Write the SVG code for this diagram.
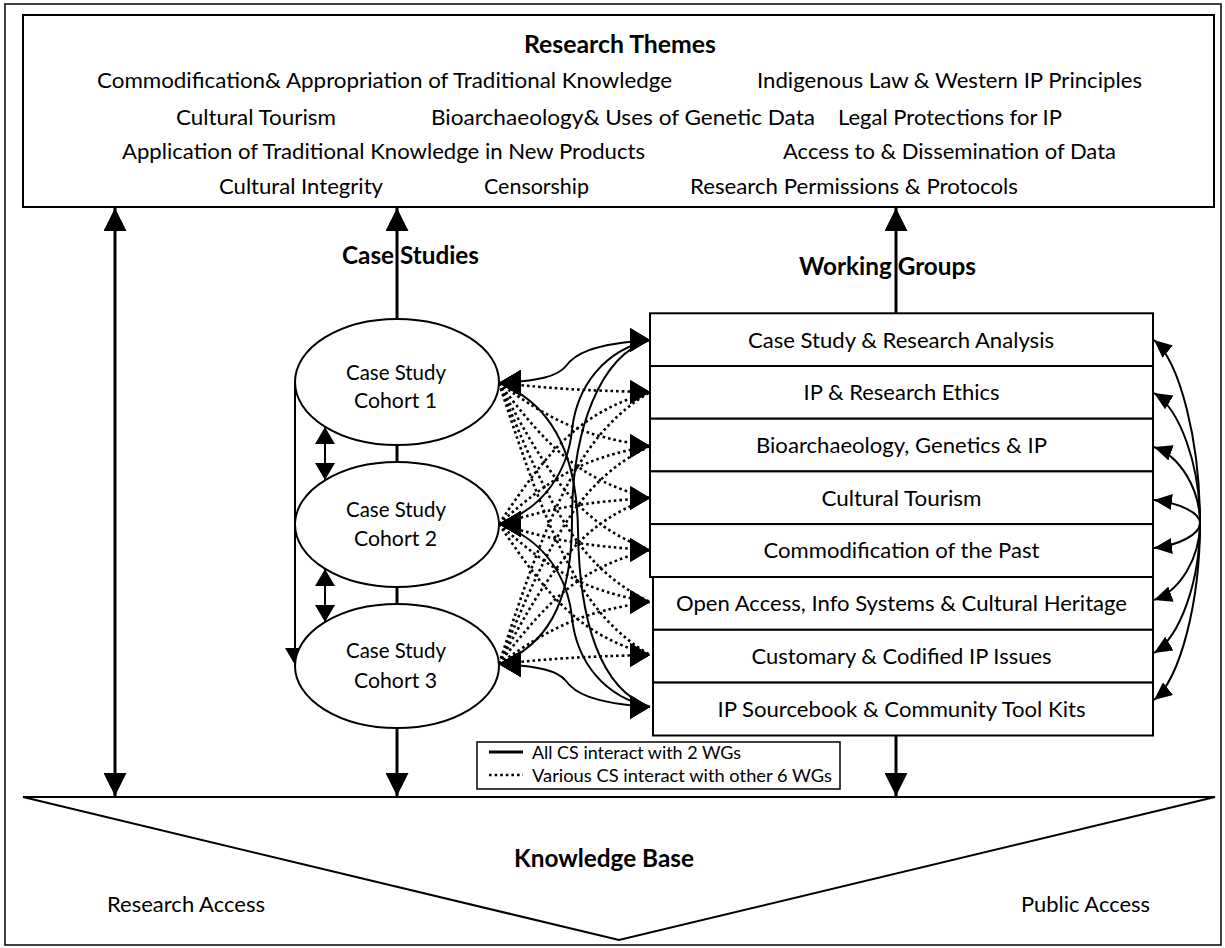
<svg xmlns="http://www.w3.org/2000/svg" width="1225" height="948" viewBox="0 0 1225 948">
<style>
.t{font-family:Lato,'Open Sans','Liberation Sans',sans-serif;font-size:22px;fill:#000}
.b{font-weight:bold;font-size:24.5px}
.e{font-size:20.5px}
.lg{font-size:18px}
.box{fill:#fff;stroke:#000;stroke-width:2}
.ln{fill:none;stroke:#000;stroke-width:3}
.cv{fill:none;stroke:#000;stroke-width:2}
.dt{fill:none;stroke:#000;stroke-width:2.6;stroke-dasharray:2.6 3}
</style>
<defs>
<marker id="mBig" viewBox="0 0 23 23" refX="23" refY="11.5" markerWidth="23" markerHeight="23" markerUnits="userSpaceOnUse" orient="auto-start-reverse"><path d="M0,0 L23,11.5 L0,23 z" fill="#000"/></marker>
<marker id="mSm" viewBox="0 0 17 20" refX="17" refY="10" markerWidth="17" markerHeight="20" markerUnits="userSpaceOnUse" orient="auto-start-reverse"><path d="M0,0 L17,10 L0,20 z" fill="#000"/></marker>
<marker id="mCoh" viewBox="0 0 22 26" refX="22" refY="13" markerWidth="22" markerHeight="26" markerUnits="userSpaceOnUse" orient="180"><path d="M0,0 L22,13 L0,26 z" fill="#000"/></marker>
<marker id="mRow" viewBox="0 0 20 24" refX="20" refY="12" markerWidth="20" markerHeight="24" markerUnits="userSpaceOnUse" orient="0"><path d="M0,0 L20,12 L0,24 z" fill="#000"/></marker>
<marker id="mArc" viewBox="0 0 18 16" refX="18" refY="8" markerWidth="18" markerHeight="16" markerUnits="userSpaceOnUse" orient="auto"><path d="M0,0 L18,8 L0,16 z" fill="#000"/></marker>
</defs>
<rect x="0" y="0" width="1225" height="948" fill="#fff"/>
<rect x="5" y="4" width="1216" height="941" fill="none" stroke="#000" stroke-width="1.5"/>

<g id="research-themes">
<rect class="box" x="23" y="15" width="1191" height="192"/>
<text class="t b" x="524" y="53" textLength="192" lengthAdjust="spacingAndGlyphs">Research Themes</text>
<text class="t" x="97" y="88" textLength="575" lengthAdjust="spacingAndGlyphs">Commodification&amp; Appropriation of Traditional Knowledge</text>
<text class="t" x="757" y="88" textLength="385" lengthAdjust="spacingAndGlyphs">Indigenous Law &amp; Western IP Principles</text>
<text class="t" x="176" y="125" textLength="160" lengthAdjust="spacingAndGlyphs">Cultural Tourism</text>
<text class="t" x="431" y="125" textLength="384" lengthAdjust="spacingAndGlyphs">Bioarchaeology&amp; Uses of Genetic Data</text>
<text class="t" x="838" y="125" textLength="224" lengthAdjust="spacingAndGlyphs">Legal Protections for IP</text>
<text class="t" x="122" y="159" textLength="523" lengthAdjust="spacingAndGlyphs">Application of Traditional Knowledge in New Products</text>
<text class="t" x="783" y="159" textLength="333" lengthAdjust="spacingAndGlyphs">Access to &amp; Dissemination of Data</text>
<text class="t" x="219" y="194" textLength="164" lengthAdjust="spacingAndGlyphs">Cultural Integrity</text>
<text class="t" x="484" y="194" textLength="105" lengthAdjust="spacingAndGlyphs">Censorship</text>
<text class="t" x="690" y="194" textLength="328" lengthAdjust="spacingAndGlyphs">Research Permissions &amp; Protocols</text>
</g>

<g id="knowledge-base">
<polygon points="23,797 1215,797 619,940" fill="#fff" stroke="#000" stroke-width="2"/>
<text class="t b" x="514" y="867" textLength="180" lengthAdjust="spacingAndGlyphs">Knowledge Base</text>
<text class="t" x="107" y="912" textLength="158" lengthAdjust="spacingAndGlyphs">Research Access</text>
<text class="t" x="1021" y="912" textLength="129" lengthAdjust="spacingAndGlyphs">Public Access</text>
</g>

<g id="connectors">
<path class="ln" d="M115 208 L115 796" marker-start="url(#mBig)" marker-end="url(#mBig)"/>
<path class="ln" d="M397 319 L397 208" marker-end="url(#mBig)"/>
<path class="ln" d="M397 728 L397 796" marker-end="url(#mBig)"/>
<path class="ln" d="M896 313 L896 208" marker-end="url(#mBig)"/>
<path class="ln" d="M896 736 L896 796" marker-end="url(#mBig)"/>
<path class="ln" d="M397 445 L397 462"/>
<path class="ln" d="M397 587 L397 604"/>
<path class="cv" d="M325 427 L325 480" marker-start="url(#mSm)" marker-end="url(#mSm)"/>
<path class="cv" d="M325 569 L325 622" marker-start="url(#mSm)" marker-end="url(#mSm)"/>
<path class="cv" d="M295 383 L295 665" marker-end="url(#mSm)"/>

<!-- dotted: cohorts to WGs 2-7 -->
<path class="dt" d="M499 383 C551.5 388.4 582.5 390.7 650 392" marker-start="url(#mCoh)" marker-end="url(#mRow)"/>
<path class="dt" d="M499 383 C551.5 420.8 582.5 436.6 650 446" marker-start="url(#mCoh)" marker-end="url(#mRow)"/>
<path class="dt" d="M499 383 C551.5 452 582.5 480.8 650 498" marker-start="url(#mCoh)" marker-end="url(#mRow)"/>
<path class="dt" d="M499 383 C551.5 483.2 582.5 525 650 550" marker-start="url(#mCoh)" marker-end="url(#mRow)"/>
<path class="dt" d="M499 383 C551.5 514.4 582.5 569.2 650 602" marker-start="url(#mCoh)" marker-end="url(#mRow)"/>
<path class="dt" d="M499 383 C551.5 546.2 582.5 614.2 650 655" marker-start="url(#mCoh)" marker-end="url(#mRow)"/>
<path class="dt" d="M499 524 C551.5 444.8 582.5 411.8 650 392" marker-start="url(#mCoh)" marker-end="url(#mRow)"/>
<path class="dt" d="M499 524 C551.5 477.2 582.5 457.7 650 446" marker-start="url(#mCoh)" marker-end="url(#mRow)"/>
<path class="dt" d="M499 524 C551.5 508.4 582.5 501.9 650 498" marker-start="url(#mCoh)" marker-end="url(#mRow)"/>
<path class="dt" d="M499 524 C551.5 539.6 582.5 546.1 650 550" marker-start="url(#mCoh)" marker-end="url(#mRow)"/>
<path class="dt" d="M499 524 C551.5 570.8 582.5 590.3 650 602" marker-start="url(#mCoh)" marker-end="url(#mRow)"/>
<path class="dt" d="M499 524 C551.5 602.6 582.5 635.4 650 655" marker-start="url(#mCoh)" marker-end="url(#mRow)"/>
<path class="dt" d="M499 664 C551.5 500.8 582.5 432.8 650 392" marker-start="url(#mCoh)" marker-end="url(#mRow)"/>
<path class="dt" d="M499 664 C551.5 533.2 582.5 478.7 650 446" marker-start="url(#mCoh)" marker-end="url(#mRow)"/>
<path class="dt" d="M499 664 C551.5 564.4 582.5 522.9 650 498" marker-start="url(#mCoh)" marker-end="url(#mRow)"/>
<path class="dt" d="M499 664 C551.5 595.6 582.5 567.1 650 550" marker-start="url(#mCoh)" marker-end="url(#mRow)"/>
<path class="dt" d="M499 664 C551.5 626.8 582.5 611.3 650 602" marker-start="url(#mCoh)" marker-end="url(#mRow)"/>
<path class="dt" d="M499 664 C551.5 658.6 582.5 656.4 650 655" marker-start="url(#mCoh)" marker-end="url(#mRow)"/>

<!-- solid: all cohorts to WG 1 and WG 8 -->
<path class="cv" d="M499 383 C540 381 558 376 566 366 C574 355 590 344 650 340" marker-start="url(#mCoh)" marker-end="url(#mRow)"/>
<path class="cv" d="M499 524 C545 508 568 470 572 430 C577 385 605 350 650 340" marker-start="url(#mCoh)" marker-end="url(#mRow)"/>
<path class="cv" d="M499 664 C555 642 572 590 572 520 C572 430 600 355 650 340" marker-start="url(#mCoh)" marker-end="url(#mRow)"/>
<path class="cv" d="M499 383 C555 405 577 460 578 530 C579 620 600 690 650 707" marker-start="url(#mCoh)" marker-end="url(#mRow)"/>
<path class="cv" d="M499 524 C545 540 568 578 572 618 C577 663 605 697 650 707" marker-start="url(#mCoh)" marker-end="url(#mRow)"/>
<path class="cv" d="M499 664 C540 666 558 671 566 681 C574 692 590 703 650 707" marker-start="url(#mCoh)" marker-end="url(#mRow)"/>

<!-- right side: WG interactions -->
<path class="cv" d="M1200 523 C1200 441 1180 362 1154 340" marker-end="url(#mArc)"/>
<path class="cv" d="M1200 523 C1200 465 1180 409 1154 393" marker-end="url(#mArc)"/>
<path class="cv" d="M1200 523 C1200 489 1180 456 1154 447" marker-end="url(#mArc)"/>
<path class="cv" d="M1200 523 C1200 513 1180 503 1154 500" marker-end="url(#mArc)"/>
<path class="cv" d="M1200 523 C1200 534 1180 545 1154 548" marker-end="url(#mArc)"/>
<path class="cv" d="M1200 523 C1200 558 1180 591 1154 600" marker-end="url(#mArc)"/>
<path class="cv" d="M1200 523 C1200 582 1180 637 1154 653" marker-end="url(#mArc)"/>
<path class="cv" d="M1200 523 C1200 603 1180 679 1154 700" marker-end="url(#mArc)"/>
</g>

<g id="label-case-studies"><text class="t b" x="342" y="264" textLength="137" lengthAdjust="spacingAndGlyphs">Case Studies</text></g>
<g id="label-working-groups"><text class="t b" x="799" y="275" textLength="177" lengthAdjust="spacingAndGlyphs">Working Groups</text></g>

<g id="cohort-1">
<ellipse class="box" cx="397" cy="382" rx="102" ry="63"/>
<text class="t e" x="346" y="380" textLength="100" lengthAdjust="spacingAndGlyphs">Case Study</text>
<text class="t e" x="354" y="408" textLength="83" lengthAdjust="spacingAndGlyphs">Cohort 1</text>
</g>
<g id="cohort-2">
<ellipse class="box" cx="397" cy="524.5" rx="102" ry="62.5"/>
<text class="t e" x="346" y="517" textLength="100" lengthAdjust="spacingAndGlyphs">Case Study</text>
<text class="t e" x="354" y="546" textLength="83" lengthAdjust="spacingAndGlyphs">Cohort 2</text>
</g>
<g id="cohort-3">
<ellipse class="box" cx="397" cy="666" rx="102" ry="62"/>
<text class="t e" x="346" y="658" textLength="100" lengthAdjust="spacingAndGlyphs">Case Study</text>
<text class="t e" x="354" y="688" textLength="83" lengthAdjust="spacingAndGlyphs">Cohort 3</text>
</g>

<g id="wg-1"><rect class="box" x="650" y="313.3" width="503" height="52.7"/><text class="t" x="748" y="347.5" textLength="306" lengthAdjust="spacingAndGlyphs">Case Study &amp; Research Analysis</text></g>
<g id="wg-2"><rect class="box" x="650" y="366" width="503" height="52.7"/><text class="t" x="803.5" y="400" textLength="196" lengthAdjust="spacingAndGlyphs">IP &amp; Research Ethics</text></g>
<g id="wg-3"><rect class="box" x="650" y="418.7" width="503" height="52.7"/><text class="t" x="756" y="453" textLength="291" lengthAdjust="spacingAndGlyphs">Bioarchaeology, Genetics &amp; IP</text></g>
<g id="wg-4"><rect class="box" x="650" y="471.4" width="503" height="52.7"/><text class="t" x="821.5" y="505.5" textLength="160" lengthAdjust="spacingAndGlyphs">Cultural Tourism</text></g>
<g id="wg-5"><rect class="box" x="650" y="524.1" width="503" height="52.9"/><text class="t" x="763.5" y="558" textLength="276" lengthAdjust="spacingAndGlyphs">Commodification of the Past</text></g>
<g id="wg-6"><rect class="box" x="653" y="577" width="500" height="52.8"/><text class="t" x="676" y="611" textLength="451" lengthAdjust="spacingAndGlyphs">Open Access, Info Systems &amp; Cultural Heritage</text></g>
<g id="wg-7"><rect class="box" x="653" y="629.8" width="500" height="52.8"/><text class="t" x="751.5" y="664" textLength="300" lengthAdjust="spacingAndGlyphs">Customary &amp; Codified IP Issues</text></g>
<g id="wg-8"><rect class="box" x="653" y="682.6" width="500" height="52.9"/><text class="t" x="717.5" y="716.5" textLength="368" lengthAdjust="spacingAndGlyphs">IP Sourcebook &amp; Community Tool Kits</text></g>

<g id="legend">
<rect x="477" y="742" width="363" height="47" fill="#fff" stroke="#000" stroke-width="1.5"/>
<line x1="489" y1="752" x2="523" y2="752" stroke="#000" stroke-width="3"/>
<line x1="489" y1="775" x2="523" y2="775" class="dt"/>
<text class="t lg" x="532" y="758.5" textLength="209" lengthAdjust="spacingAndGlyphs">All CS interact with 2 WGs</text>
<text class="t lg" x="532" y="781.5" textLength="300" lengthAdjust="spacingAndGlyphs">Various CS interact with other 6 WGs</text>
</g>
</svg>
